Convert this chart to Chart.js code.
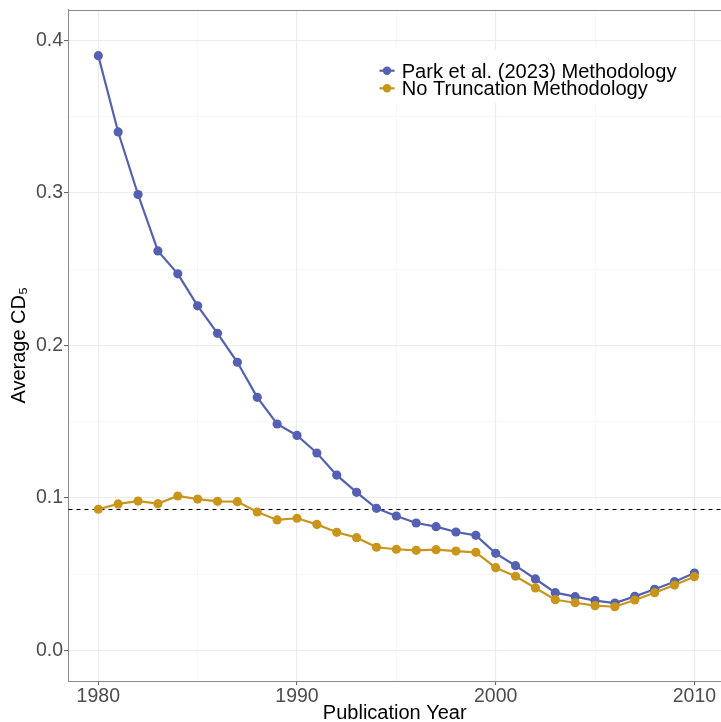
<!DOCTYPE html>
<html>
<head>
<meta charset="utf-8">
<script src="https://cdn.jsdelivr.net/npm/chart.js@4"></script>
<style>
  html, body { margin: 0; padding: 0; background: #ffffff; }
  #wrap { width: 721px; height: 722px; }
</style>
</head>
<body>
<div id="wrap"><canvas id="c" width="721" height="722"></canvas></div>
<script>
// ---- data ----
const years = [1980,1981,1982,1983,1984,1985,1986,1987,1988,1989,1990,1991,1992,1993,1994,1995,1996,1997,1998,1999,2000,2001,2002,2003,2004,2005,2006,2007,2008,2009,2010];
const parkValues = [0.390,0.340,0.299,0.262,0.247,0.226,0.208,0.189,0.166,0.1485,0.141,0.1295,0.115,0.1037,0.0932,0.0882,0.0836,0.0812,0.0777,0.0755,0.0637,0.0556,0.0469,0.0379,0.0353,0.0327,0.0311,0.0355,0.0401,0.0451,0.0508];
const noTruncValues = [0.0926,0.0961,0.0980,0.0963,0.1013,0.0993,0.0978,0.0976,0.0908,0.0856,0.0867,0.0827,0.0775,0.0740,0.0677,0.0664,0.0657,0.0661,0.0652,0.0644,0.0543,0.0487,0.0410,0.0333,0.0313,0.0294,0.0287,0.0331,0.0379,0.0429,0.0484];
const referenceValue = 0.0928;
const seriesLabels = ["Park et al. (2023) Methodology", "No Truncation Methodology"];
const xTickValues = [1980,1985,1990,1995,2000,2005,2010];
const xTickLabels = ["1980","","1990","","2000","","2010"];
const yTickValues = [0,0.05,0.1,0.15,0.2,0.25,0.3,0.35,0.4];
const yTickLabels = ["0.0","","0.1","","0.2","","0.3","","0.4"];

const BLUE = '#5461B3';
const GOLD = '#C9961B';
const FONT = "'Liberation Sans', Arial, sans-serif";

const pts = (vals) => years.map((y, i) => ({x: y, y: vals[i]}));

const extrasPlugin = {
  id: 'extras',
  beforeDatasetsDraw(chart) {
    const {ctx, chartArea} = chart;
    const ys = chart.scales.y;
    // dashed reference line
    const yy = Math.round(ys.getPixelForValue(referenceValue)) + 0.5;
    ctx.save();
    ctx.strokeStyle = '#000000';
    ctx.lineWidth = 1.1;
    ctx.setLineDash([4, 4]);
    ctx.beginPath();
    ctx.moveTo(chartArea.left, yy);
    ctx.lineTo(chartArea.right, yy);
    ctx.stroke();
    ctx.restore();

    // legend box (inside panel)
    ctx.save();
    ctx.fillStyle = '#ffffff';
    ctx.fillRect(370, 50, 320, 53);
    const rows = [70.7, 88.3];
    const colors = [BLUE, GOLD];
    ctx.font = '20.1px ' + FONT;
    ctx.textBaseline = 'alphabetic';
    ctx.textAlign = 'left';
    rows.forEach((ry, i) => {
      ctx.strokeStyle = colors[i];
      ctx.lineWidth = 2.2;
      ctx.beginPath();
      ctx.moveTo(379.5, ry);
      ctx.lineTo(394.5, ry);
      ctx.stroke();
      ctx.fillStyle = colors[i];
      ctx.beginPath();
      ctx.arc(387, ry, 4.2, 0, Math.PI * 2);
      ctx.fill();
      ctx.fillStyle = '#000000';
      ctx.fillText(seriesLabels[i], 401.7, ry + 7.1);
    });
    ctx.restore();
  },
  afterDraw(chart) {
    const {ctx, chartArea} = chart;
    ctx.save();
    ctx.strokeStyle = '#8A8A8A';
    ctx.lineWidth = 1;
    ctx.beginPath();
    ctx.moveTo(chartArea.left, Math.round(chartArea.top) + 0.5);
    ctx.lineTo(chartArea.right, Math.round(chartArea.top) + 0.5);
    ctx.stroke();
    ctx.restore();
  }
};

const isMajor = (ctx, labels, values) => {
  const t = ctx.tick;
  if (!t) return false;
  const idx = values.indexOf(t.value);
  return idx >= 0 && labels[idx] !== '';
};

new Chart(document.getElementById('c'), {
  type: 'line',
  data: {
    datasets: [
      {
        label: seriesLabels[0],
        data: pts(parkValues),
        borderColor: BLUE,
        backgroundColor: BLUE,
        pointBackgroundColor: BLUE,
        pointBorderWidth: 0,
        pointRadius: 4.6,
        borderWidth: 2.2,
        tension: 0,
        order: 1,
        clip: false
      },
      {
        label: seriesLabels[1],
        data: pts(noTruncValues),
        borderColor: GOLD,
        backgroundColor: GOLD,
        pointBackgroundColor: GOLD,
        pointBorderWidth: 0,
        pointRadius: 4.6,
        borderWidth: 2.2,
        tension: 0,
        order: 0,
        clip: false
      }
    ]
  },
  options: {
    responsive: false,
    animation: false,
    devicePixelRatio: 1,
    layout: { autoPadding: false, padding: { top: 9.5, right: 0, bottom: 0, left: 0 } },
    plugins: { legend: { display: false }, tooltip: { enabled: false } },
    scales: {
      x: {
        type: 'linear',
        min: 1978.5,
        max: 2011.34,
        afterFit(scale) { scale.height = 41; scale.paddingLeft = 0; scale.paddingRight = 0; },
        afterBuildTicks(scale) { scale.ticks = xTickValues.map(v => ({value: v})); },
        ticks: {
          autoSkip: false,
          maxRotation: 0,
          padding: 0,
          color: '#4D4D4D',
          font: { family: FONT, size: 19.5 },
          callback: (v) => { const i = xTickValues.indexOf(v); return i >= 0 ? xTickLabels[i] : ''; }
        },
        grid: {
          color: (c) => isMajor(c, xTickLabels, xTickValues) ? '#EBEBEB' : '#F2F2F2',
          lineWidth: (c) => isMajor(c, xTickLabels, xTickValues) ? 1.1 : 0.6,
          tickColor: (c) => isMajor(c, xTickLabels, xTickValues) ? '#666666' : 'rgba(0,0,0,0)',
          tickLength: 4,
          drawTicks: true
        },
        border: { display: true, color: '#8A8A8A', width: 1 },
        title: {
          display: true,
          text: 'Publication Year',
          color: '#000000',
          font: { family: FONT, size: 20, lineHeight: 1 },
          padding: { top: 0, bottom: -1 }
        }
      },
      y: {
        type: 'linear',
        min: -0.02,
        max: 0.4203,
        afterFit(scale) { scale.width = 68.5; scale.paddingTop = 0; scale.paddingBottom = 0; },
        afterBuildTicks(scale) { scale.ticks = yTickValues.map(v => ({value: v})); },
        ticks: {
          autoSkip: false,
          padding: 1,
          color: '#4D4D4D',
          font: { family: FONT, size: 19.5 },
          callback: (v) => { const i = yTickValues.indexOf(v); return i >= 0 ? yTickLabels[i] : ''; }
        },
        grid: {
          color: (c) => isMajor(c, yTickLabels, yTickValues) ? '#EBEBEB' : '#F2F2F2',
          lineWidth: (c) => isMajor(c, yTickLabels, yTickValues) ? 1.1 : 0.6,
          tickColor: (c) => isMajor(c, yTickLabels, yTickValues) ? '#666666' : 'rgba(0,0,0,0)',
          tickLength: 4.5,
          drawTicks: true
        },
        border: { display: true, color: '#8A8A8A', width: 1 },
        title: {
          display: true,
          text: 'Average CD\u2085',
          color: '#000000',
          font: { family: FONT, size: 20, lineHeight: 1 },
          padding: { top: 9, bottom: 0 }
        }
      }
    }
  },
  plugins: [extrasPlugin]
});
</script>
</body>
</html>
